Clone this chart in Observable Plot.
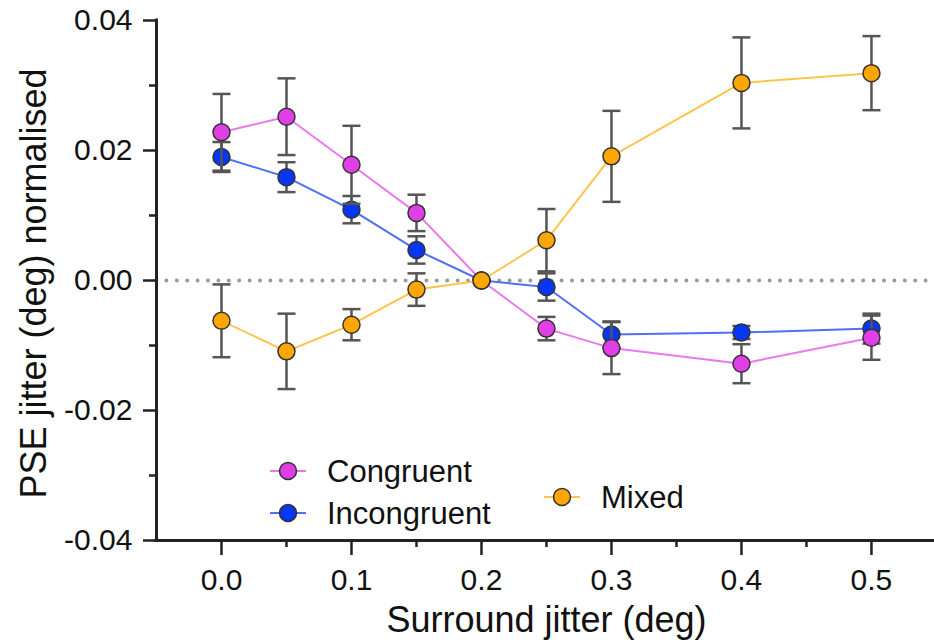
<!DOCTYPE html>
<html>
<head>
<meta charset="utf-8">
<script src="https://cdn.jsdelivr.net/npm/d3@7"></script>
<script src="https://cdn.jsdelivr.net/npm/@observablehq/plot@0.6"></script>
<style>
  html, body { margin: 0; padding: 0; background: #fff; }
  #chart svg { display: block; }
</style>
</head>
<body>
<div id="chart"></div>
<script>
// ---- data ----
const jitter = [0, 0.05, 0.1, 0.15, 0.2, 0.25, 0.3, 0.4, 0.5];
const congruent      = [0.0228, 0.0252, 0.0178, 0.0104, 0, -0.0074, -0.0104, -0.0128, -0.0088];
const congruentErr   = [0.0059, 0.0059, 0.0060, 0.0028, 0, 0.0018, 0.0040, 0.0030, 0.0034];
const incongruent    = [0.0190, 0.0159, 0.0109, 0.0047, 0, -0.0010, -0.0083, -0.0080, -0.0074];
const incongruentErr = [0.0023, 0.0023, 0.0021, 0.0021, 0, 0.0021, 0.0020, 0.0010, 0.0023];
const mixed          = [-0.0062, -0.0109, -0.0068, -0.0014, 0, 0.0062, 0.0191, 0.0304, 0.0319];
const mixedErr       = [0.0056, 0.0058, 0.0024, 0.0025, 0, 0.0048, 0.0070, 0.0070, 0.0057];
const seriesNames = ["Congruent", "Incongruent", "Mixed"];
const xMajorTicks = [0, 0.1, 0.2, 0.3, 0.4, 0.5];
const xMinorTicks = [0.05, 0.15, 0.25, 0.35, 0.45];
const yMajorTicks = [-0.04, -0.02, 0, 0.02, 0.04];
const yMinorTicks = [-0.03, -0.01, 0.01, 0.03];

// ---- styles ----
const markerFill = {Congruent: "#e13fe6", Incongruent: "#0736f5", Mixed: "#ffa600"};
const lineColor  = {Congruent: "#ea78ef", Incongruent: "#4f70f6", Mixed: "#ffc44d"};
const font = "'Liberation Sans', Arial, Helvetica, sans-serif";

const valuesBy = {Congruent: [congruent, congruentErr], Incongruent: [incongruent, incongruentErr], Mixed: [mixed, mixedErr]};
const table = (name) => jitter.map((x, i) => ({x, y: valuesBy[name][0][i], err: valuesBy[name][1][i], s: name}));

const capSymbol = { draw(ctx) { ctx.moveTo(-9, 0); ctx.lineTo(9, 0); } };

function seriesMarks(name) {
  const d = table(name);
  const e = d.filter(r => r.err > 0);
  return [
    Plot.ruleX(e, {x: "x", y1: r => r.y - r.err, y2: r => r.y + r.err, stroke: "#555", strokeWidth: 2.5}),
    Plot.dot(e, {x: "x", y: r => r.y + r.err, symbol: capSymbol, r: 9, stroke: "#555", strokeWidth: 2.5, fill: "none"}),
    Plot.dot(e, {x: "x", y: r => r.y - r.err, symbol: capSymbol, r: 9, stroke: "#555", strokeWidth: 2.5, fill: "none"}),
    Plot.line(d, {x: "x", y: "y", stroke: lineColor[name], strokeWidth: 2}),
    Plot.dot(d, {x: "x", y: "y", r: 8.5, fill: markerFill[name], stroke: "#333", strokeWidth: 1.5})
  ];
}

function legend(index, scales, values, dimensions) {
  const x0 = dimensions.marginLeft, y0 = dimensions.height - dimensions.marginBottom;
  const layout = {Congruent: [132, -69], Incongruent: [132, -27], Mixed: [406, -43]};
  const g = d3.create("svg:g");
  for (const name of seriesNames) {
    const [dx, dy] = layout[name];
    const cx = x0 + dx, cy = y0 + dy;
    g.append("line").attr("x1", cx - 18).attr("x2", cx + 18).attr("y1", cy).attr("y2", cy)
      .attr("stroke", lineColor[name]).attr("stroke-width", 2);
    g.append("circle").attr("cx", cx).attr("cy", cy).attr("r", 8.5)
      .attr("fill", markerFill[name]).attr("stroke", "#333").attr("stroke-width", 1.5);
    g.append("text").attr("x", cx + 39).attr("y", cy).attr("dy", "0.35em")
      .attr("text-anchor", "start")
      .attr("font-size", 31).attr("font-family", font).attr("fill", "#111").text(name);
  }
  return g.node();
}

const xDomain = [-0.05, 0.5485];

const chart = Plot.plot({
  width: 934,
  height: 644,
  marginLeft: 156,
  marginRight: 0,
  marginTop: 20,
  marginBottom: 104,
  style: {fontFamily: font, fontSize: "30px", color: "#111", background: "#fff"},
  x: {domain: xDomain, axis: null},
  y: {domain: [-0.04, 0.04], axis: null},
  marks: [
    Plot.ruleY([0], {stroke: "#9a9a9a", strokeWidth: 4, strokeDasharray: "0 10.4", strokeLinecap: "round"}),
    ...seriesMarks("Incongruent"),
    ...seriesMarks("Congruent"),
    ...seriesMarks("Mixed"),
    Plot.axisY(yMajorTicks, {tickSize: 13, tickPadding: 11, tickFormat: d => d.toFixed(2), fontSize: 30, stroke: "#222", strokeWidth: 2.5, fill: "#111", label: null}),
    Plot.axisY(yMinorTicks, {tickSize: 7, tickFormat: () => "", stroke: "#222", strokeWidth: 2.5, label: null}),
    Plot.axisX(xMajorTicks, {tickSize: 15, tickPadding: 13, tickFormat: d => d.toFixed(1), fontSize: 30, stroke: "#222", strokeWidth: 2.5, fill: "#111", label: null}),
    Plot.axisX(xMinorTicks, {tickSize: 7, tickFormat: () => "", stroke: "#222", strokeWidth: 2.5, label: null}),
    Plot.ruleX([xDomain[0]], {stroke: "#222", strokeWidth: 3, strokeLinecap: "square"}),
    Plot.ruleY([-0.04], {stroke: "#222", strokeWidth: 3, strokeLinecap: "square"}),
    Plot.text(["Surround jitter (deg)"], {frameAnchor: "bottom", dx: 1, dy: 80, textAnchor: "middle", lineAnchor: "middle", fontSize: 36, fill: "#111"}),
    Plot.text(["PSE jitter (deg) normalised"], {frameAnchor: "left", dx: -122.5, dy: 3, rotate: -90, textAnchor: "middle", lineAnchor: "middle", fontSize: 36, fill: "#111"}),
    legend
  ]
});
document.getElementById("chart").appendChild(chart);
</script>
</body>
</html>
